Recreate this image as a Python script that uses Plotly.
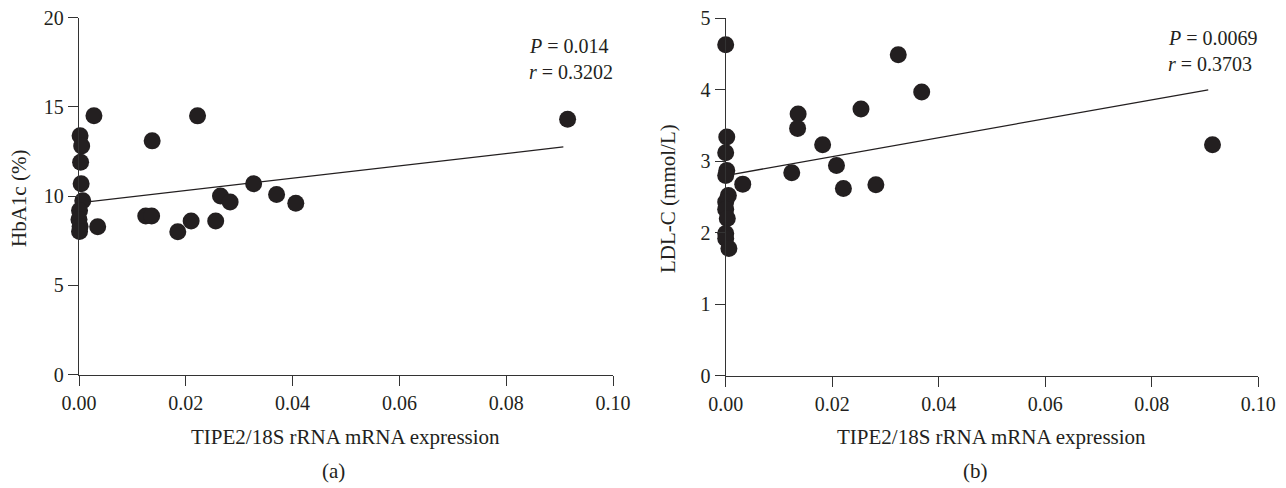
import plotly.graph_objects as go

W, H = 1286, 488

# ---- Panel (a): HbA1c vs TIPE2 ----
a_x = [0.0028, 0.0222, 0.0137, 0.0002, 0.0005, 0.0003, 0.0004, 0.0007,
       0.0001, 0.0000, 0.0002, 0.0001, 0.0035, 0.0125, 0.0136, 0.0185,
       0.0210, 0.0256, 0.0265, 0.0283, 0.0327, 0.0370, 0.0406, 0.0915]
a_y = [14.51, 14.50, 13.10, 13.39, 12.81, 11.90, 10.70, 9.75,
       9.20, 8.70, 8.30, 8.02, 8.29, 8.89, 8.89, 8.01,
       8.61, 8.61, 10.01, 9.67, 10.70, 10.10, 9.60, 14.31]
a_fit_x = [0.0, 0.0907]
a_fit_y = [9.63, 12.76]

# ---- Panel (b): LDL-C vs TIPE2 ----
b_x = [0.0000, 0.0324, 0.0368, 0.0254, 0.0136, 0.0135, 0.0182, 0.0208,
       0.0124, 0.0221, 0.0282, 0.0032, 0.0002, 0.0000, 0.0002, 0.0000,
       0.0005, 0.0000, 0.0000, 0.0003, 0.0000, 0.0000, 0.0006, 0.0914]
b_y = [4.63, 4.49, 3.97, 3.73, 3.66, 3.46, 3.23, 2.94,
       2.84, 2.62, 2.67, 2.68, 3.34, 3.12, 2.87, 2.80,
       2.52, 2.43, 2.33, 2.20, 1.99, 1.92, 1.78, 3.23]
b_fit_x = [0.0, 0.0906]
b_fit_y = [2.80, 4.00]

x_ticks = [0.00, 0.02, 0.04, 0.06, 0.08, 0.10]
x_tick_text = ["0.00", "0.02", "0.04", "0.06", "0.08", "0.10"]
a_y_ticks = [0, 5, 10, 15, 20]
b_y_ticks = [0, 1, 2, 3, 4, 5]

x_title = "TIPE2/18S rRNA mRNA expression"
a_y_title = "HbA1c (%)"
b_y_title = "LDL-C (mmol/L)"
a_stats = ["<i>P</i> = 0.014", "<i>r</i> = 0.3202"]
b_stats = ["<i>P</i> = 0.0069", "<i>r</i> = 0.3703"]

FONT = "Liberation Serif"
INK = "#231f20"
AX = "#333333"

def px(x):
    return x / W

def py(y):
    return 1 - y / H

fig = go.Figure()
fig.add_trace(go.Scatter(x=a_fit_x, y=a_fit_y, mode="lines",
                         line=dict(color=INK, width=1.3),
                         xaxis="x", yaxis="y", showlegend=False, hoverinfo="skip"))
fig.add_trace(go.Scatter(x=a_x, y=a_y, mode="markers",
                         marker=dict(color=INK, size=17, line=dict(width=0)),
                         cliponaxis=False, xaxis="x", yaxis="y", showlegend=False))
fig.add_trace(go.Scatter(x=b_fit_x, y=b_fit_y, mode="lines",
                         line=dict(color=INK, width=1.3),
                         xaxis="x2", yaxis="y2", showlegend=False, hoverinfo="skip"))
fig.add_trace(go.Scatter(x=b_x, y=b_y, mode="markers",
                         marker=dict(color=INK, size=17, line=dict(width=0)),
                         cliponaxis=False, xaxis="x2", yaxis="y2", showlegend=False))

axis_common = dict(showgrid=False, zeroline=False, showline=True, linecolor=AX,
                   linewidth=1.3, ticks="outside", ticklen=10, tickwidth=1.3,
                   tickcolor=AX, automargin=False, ticklabeloverflow="allow",
                   tickfont=dict(family=FONT, size=20, color=INK))

fig.update_layout(
    width=W, height=H,
    margin=dict(l=0, r=0, t=0, b=0, autoexpand=False),
    paper_bgcolor="white", plot_bgcolor="white",
    xaxis=dict(domain=[px(79), px(613)], range=[0, 0.1], tickvals=x_ticks,
               ticktext=x_tick_text, anchor="y", **axis_common),
    yaxis=dict(domain=[py(374.7), py(17.7)], range=[0, 20], tickvals=a_y_ticks,
               anchor="x", **axis_common),
    xaxis2=dict(domain=[px(725.7), px(1258.3)], range=[0, 0.1], tickvals=x_ticks,
                ticktext=x_tick_text, anchor="y2", **axis_common),
    yaxis2=dict(domain=[py(375.7), py(18.3)], range=[0, 5], tickvals=b_y_ticks,
                anchor="x2", **axis_common),
)

ann = []
def txt(x, y, s, size=21, angle=0, xanchor="center"):
    ann.append(dict(x=px(x), y=py(y), xref="paper", yref="paper", text=s,
                    showarrow=False, textangle=angle, xanchor=xanchor, yanchor="middle",
                    font=dict(family=FONT, size=size, color=INK)))

txt(346, 437, x_title)
txt(991, 437, x_title)
txt(333, 471, "(a)")
txt(975, 471, "(b)")
txt(19, 199, a_y_title, angle=-90)
txt(668, 199, b_y_title, angle=-90)
txt(527, 46, a_stats[0], size=20, xanchor="left")
txt(527, 72, a_stats[1], size=20, xanchor="left")
txt(1166, 38, b_stats[0], size=20, xanchor="left")
txt(1166, 64, b_stats[1], size=20, xanchor="left")
fig.update_layout(annotations=ann)

fig.write_html("out.html", config={"displayModeBar": False},
               post_script="document.body.style.margin='0';document.body.style.overflow='hidden';")
